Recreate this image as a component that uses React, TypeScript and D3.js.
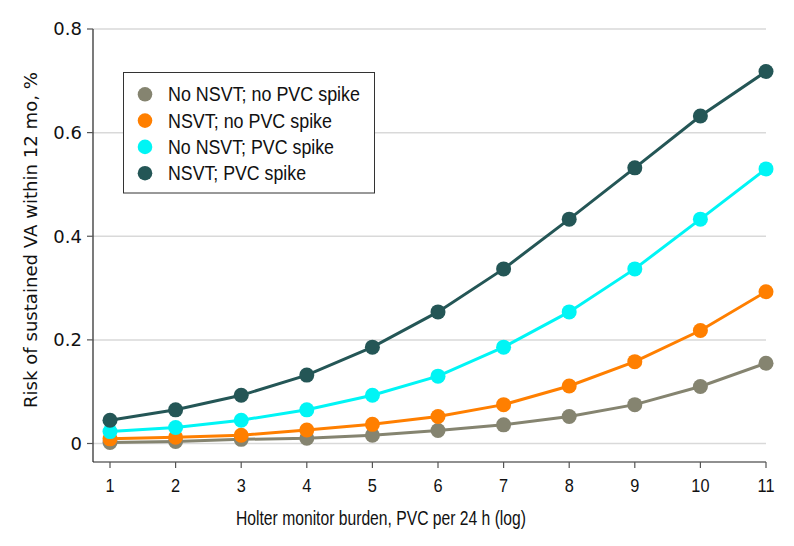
import React from "react";
import * as d3 from "d3";

const xTicks = [1, 2, 3, 4, 5, 6, 7, 8, 9, 10, 11];
const yTicks = [0, 0.2, 0.4, 0.6, 0.8];
const yTickLabels = ["0", "0.2", "0.4", "0.6", "0.8"];

const seriesNames = [
  "No NSVT; no PVC spike",
  "NSVT; no PVC spike",
  "No NSVT; PVC spike",
  "NSVT; PVC spike",
];
const seriesColors = ["#858470", "#FF7F00", "#00F5F5", "#245656"];

const noNsvtNoSpike = [0.002, 0.004, 0.008, 0.01, 0.016, 0.025, 0.036, 0.052, 0.075, 0.11, 0.155];
const nsvtNoSpike = [0.009, 0.012, 0.016, 0.026, 0.037, 0.052, 0.075, 0.111, 0.158, 0.218, 0.293];
const noNsvtSpike = [0.023, 0.031, 0.045, 0.065, 0.093, 0.13, 0.186, 0.254, 0.337, 0.433, 0.53];
const nsvtSpike = [0.045, 0.065, 0.093, 0.132, 0.186, 0.254, 0.337, 0.433, 0.532, 0.632, 0.718];

const seriesValues = [noNsvtNoSpike, nsvtNoSpike, noNsvtSpike, nsvtSpike];

const xTitle = "Holter monitor burden, PVC per 24 h (log)";
const yTitle = "Risk of sustained VA within 12 mo, %";

export default function App() {
  const W = 794;
  const H = 546;
  const left = 93;
  const right = 766;
  const top = 29;
  const bottom = 462;

  const x = d3.scaleLinear().domain([1, 11]).range([110, 766]);
  const y = d3.scaleLinear().domain([0, 0.8]).range([443.5, 29]);

  const line = d3
    .line<number>()
    .x((_, i) => x(xTicks[i]))
    .y((d) => y(d));

  const font = "'DejaVu Sans', sans-serif";
  const font2 = "'Liberation Sans', Arial, sans-serif";
  const legendWidths = [192, 164, 166, 138];

  return (
    <svg
      width={W}
      height={H}
      style={{ position: "absolute", left: 0, top: 0, background: "#fff" }}
    >
      {yTicks.map((t) => (
        <line key={"g" + t} x1={left} x2={right} y1={y(t)} y2={y(t)} stroke="#d9d9d9" strokeWidth={1.5} />
      ))}
      <line x1={left} x2={left} y1={top} y2={bottom} stroke="#222" strokeWidth={1.2} />
      <line x1={left} x2={right} y1={bottom} y2={bottom} stroke="#222" strokeWidth={1.2} />
      {yTicks.map((t, i) => (
        <g key={"y" + t}>
          <line x1={left - 6} x2={left} y1={y(t)} y2={y(t)} stroke="#555" strokeWidth={1.2} />
          <text x={82} y={y(t)} dy="0.36em" textAnchor="end" fontFamily={font} fontSize={18} fill="#111">
            {yTickLabels[i]}
          </text>
        </g>
      ))}
      {xTicks.map((t) => (
        <g key={"x" + t}>
          <line x1={x(t)} x2={x(t)} y1={bottom} y2={bottom + 6} stroke="#555" strokeWidth={1.2} />
          <text
            transform={`translate(${x(t)},485) scale(0.86,1)`}
            dy="0.36em"
            textAnchor="middle"
            fontFamily={font2}
            fontSize={19}
            fill="#111"
          >
            {t}
          </text>
        </g>
      ))}
      <text
        x={(236 + 526) / 2}
        y={518}
        dy="0.36em"
        textAnchor="middle"
        fontFamily={font2}
        fontSize={19.5}
        fill="#111"
        textLength={290}
        lengthAdjust="spacingAndGlyphs"
      >
        {xTitle}
      </text>
      <text
        transform={`translate(30,${(72 + 408) / 2}) rotate(-90)`}
        dy="0.36em"
        textAnchor="middle"
        fontFamily={font}
        fontSize={18.5}
        fill="#111"
        textLength={336}
        lengthAdjust="spacingAndGlyphs"
      >
        {yTitle}
      </text>

      {seriesValues.map((vals, si) => (
        <g key={"s" + si}>
          <path d={line(vals) || ""} fill="none" stroke={seriesColors[si]} strokeWidth={3} />
          {vals.map((v, i) => (
            <circle key={i} cx={x(xTicks[i])} cy={y(v)} r={7.5} fill={seriesColors[si]} />
          ))}
        </g>
      ))}

      <rect x={123.5} y={72.5} width={251} height={120.5} fill="#fff" stroke="#333" strokeWidth={1} />
      {seriesNames.map((n, i) => (
        <g key={"l" + i}>
          <circle cx={145} cy={94.3 + i * 26.3} r={7.3} fill={seriesColors[i]} />
          <text
            x={168}
            y={94.3 + i * 26.3}
            dy="0.36em"
            fontFamily={font2}
            fontSize={19.5}
            fill="#111"
            textLength={legendWidths[i]}
            lengthAdjust="spacingAndGlyphs"
          >
            {n}
          </text>
        </g>
      ))}
    </svg>
  );
}
